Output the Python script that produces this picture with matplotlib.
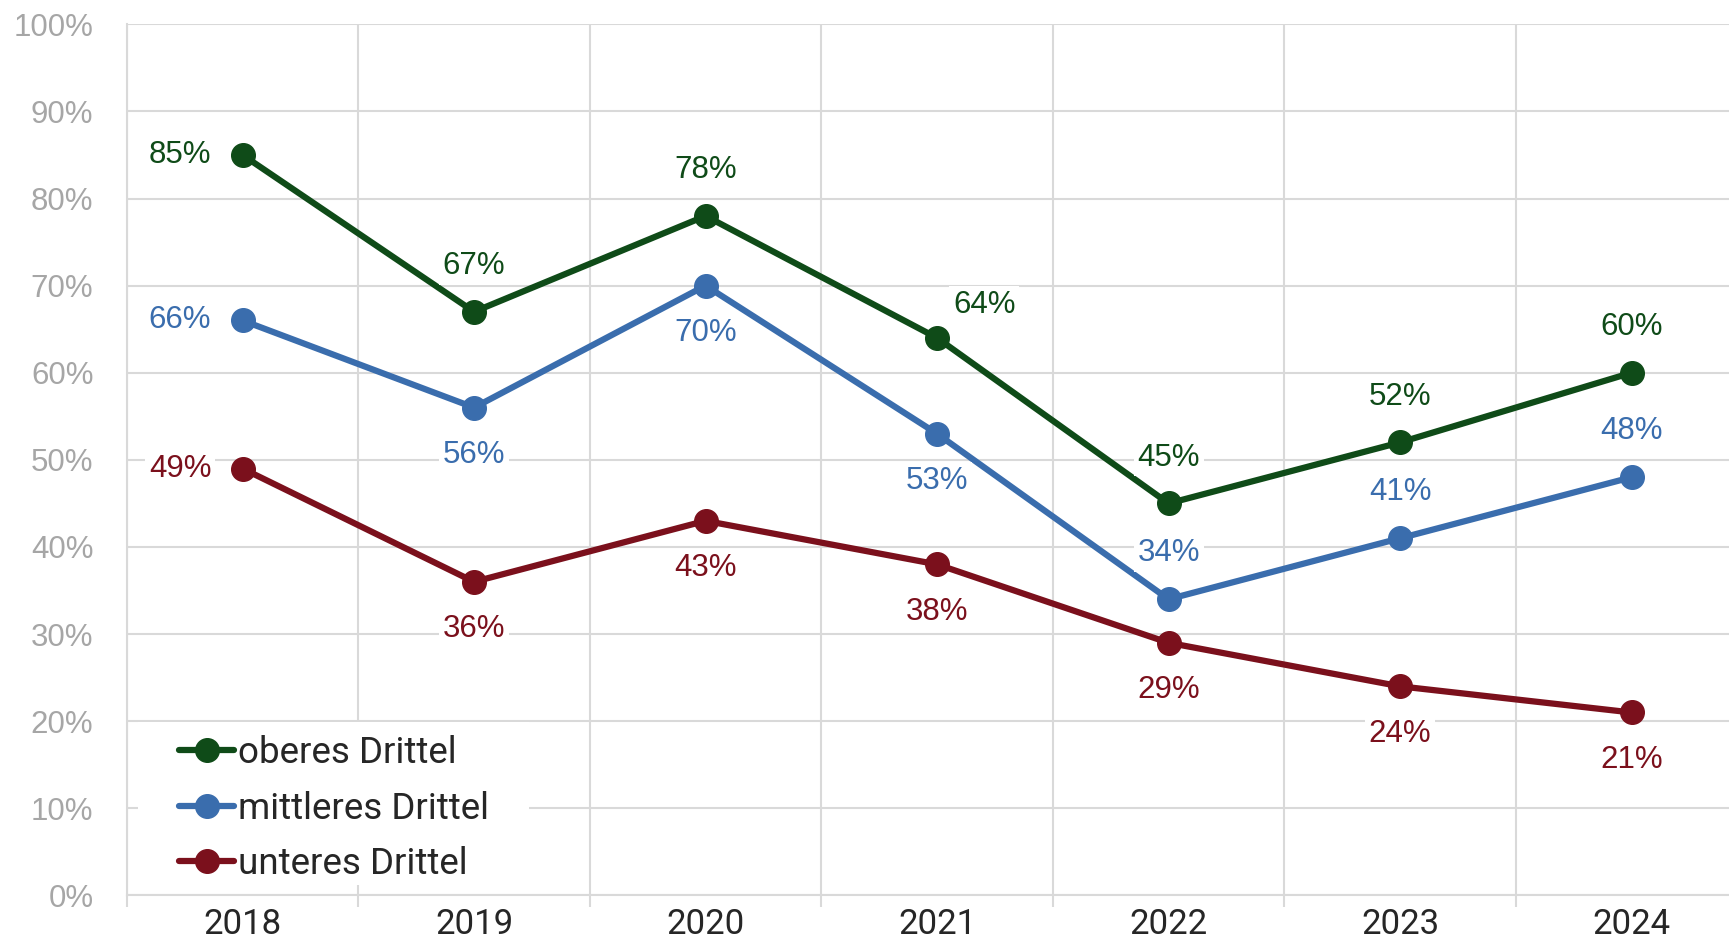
import matplotlib
matplotlib.use("Agg")
import matplotlib.pyplot as plt
from matplotlib.patches import Rectangle
from matplotlib.ticker import FixedLocator, FuncFormatter

years = ["2018", "2019", "2020", "2021", "2022", "2023", "2024"]
series_names = ["oberes Drittel", "mittleres Drittel", "unteres Drittel"]
oberes = [85, 67, 78, 64, 45, 52, 60]
mittleres = [66, 56, 70, 53, 34, 41, 48]
unteres = [49, 36, 43, 38, 29, 24, 21]
y_ticks = [0, 10, 20, 30, 40, 50, 60, 70, 80, 90, 100]

colors = ["#0F4B18", "#3A6DAD", "#7B101C"]
# label placement per point: 'L' left, 'A' above, 'B' below, 'AR' above-right
placements = [
    ["L", "A", "A", "AR", "A", "A", "A"],
    ["L", "B", "B", "B", "A", "A", "A"],
    ["L", "B", "B", "B", "B", "B", "B"],
]
offsets = {"L": (-45, 0), "A": (0, 33), "B": (0, -34), "AR": (34, 24)}

plt.rcParams["font.family"] = ["Roboto", "DejaVu Sans"]
label_font = ["Liberation Sans", "DejaVu Sans"]

W, H = 1729, 949
fig = plt.figure(figsize=(W / 100, H / 100), dpi=100)
left_px, right_px = 126.8, 126.8 + 7 * 231.5
top_px, bottom_px = 24.3, 895.4
ax = fig.add_axes([left_px / W, 1 - bottom_px / H,
                   (right_px - left_px) / W, (bottom_px - top_px) / H])

x = list(range(len(years)))
data = [oberes, mittleres, unteres]
for vals, col, name, plc in zip(data, colors, series_names, placements):
    ax.plot(x, vals, color=col, lw=4.5, marker="o", markersize=17,
            solid_capstyle="round", label=name, zorder=3)
    for xi, v, p in zip(x, vals, plc):
        ax.annotate(f"{v}%", (xi, v), xytext=offsets[p], textcoords="offset points",
                    ha="center", va="center", fontsize=22.5, color=col, zorder=4,
                    family=label_font,
                    bbox=dict(boxstyle="square,pad=0.12", fc="white", ec="none"))

ax.set_xlim(-0.5, len(years) - 0.5)
ax.set_ylim(0, 100)

grid_col = "#D9D9D9"
ax.set_axisbelow(True)
ax.xaxis.set_major_locator(FixedLocator([i - 0.5 for i in range(len(years) + 1)]))
ax.xaxis.set_minor_locator(FixedLocator(x))
ax.xaxis.set_major_formatter(FuncFormatter(lambda v, p: ""))
ax.xaxis.set_minor_formatter(FuncFormatter(lambda v, p: years[int(round(v))]))
ax.tick_params(axis="x", which="major", length=8.5, width=1.5, color=grid_col, direction="out")
ax.tick_params(axis="x", which="minor", length=0, pad=9, labelsize=25, labelcolor="#262626")
ax.set_yticks(y_ticks)
ax.set_yticklabels([f"{v}%" for v in y_ticks], family=label_font)
ax.tick_params(axis="y", length=0, pad=24, labelsize=22.5, labelcolor="#A6A6A6")
ax.grid(True, which="major", color=grid_col, lw=1.5)

for s in ["top", "right"]:
    ax.spines[s].set_visible(False)
for s in ["left", "bottom"]:
    ax.spines[s].set_color(grid_col)
    ax.spines[s].set_linewidth(1.5)

# legend background
ax.add_patch(Rectangle((0.0069, 0.012), 0.241, 0.187, transform=ax.transAxes,
                       facecolor="white", edgecolor="none", zorder=1.5))
leg = ax.legend(loc="upper left", bbox_to_anchor=(0.0322, 0.184), frameon=False,
                borderpad=0, borderaxespad=0, handlelength=1.5, handletextpad=0.1,
                labelspacing=0.53, fontsize=26.5)
for t in leg.get_texts():
    t.set_color("#262626")
leg.set_zorder(5)

fig.savefig("out.png", dpi=100)
